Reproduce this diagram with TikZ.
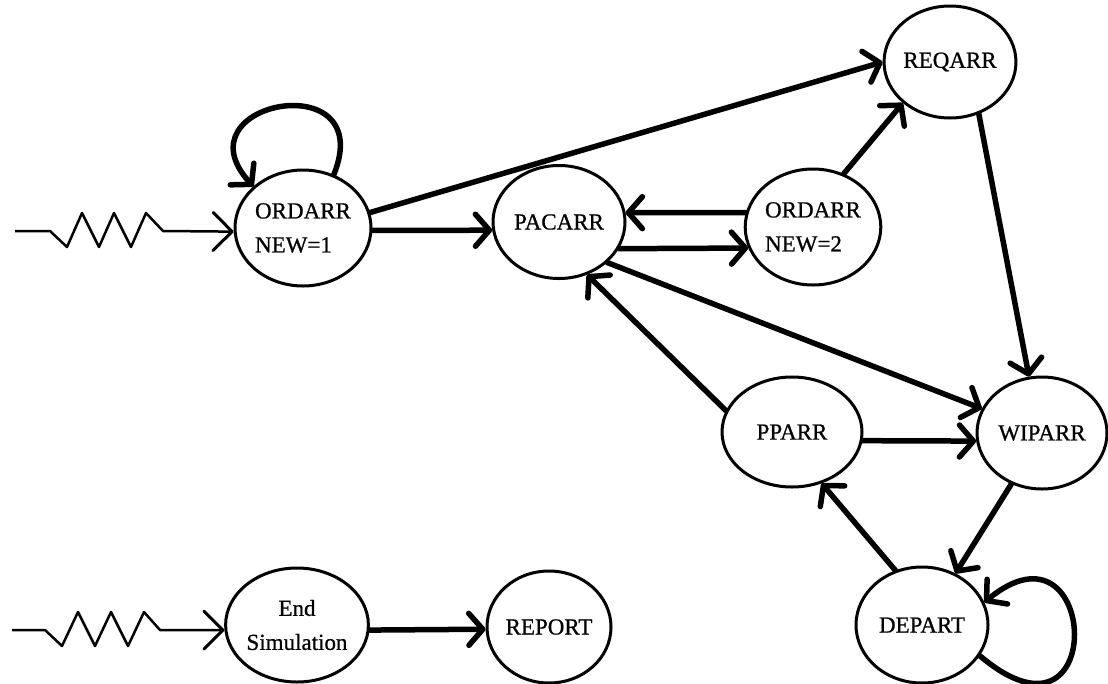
\documentclass[tikz,border=0pt]{standalone}
\usepackage{fontspec}
\setmainfont{Liberation Serif}
\newfontfamily\labelfont[FakeBold=0.8]{Liberation Serif}
\usetikzlibrary{shapes.geometric,arrows.meta}
\begin{document}
\begin{tikzpicture}[x=1pt,y=-1pt,
  state/.style={draw, ellipse, line width=3pt, inner sep=0pt,
    font=\labelfont\fontsize{23}{34}\selectfont, align=left},
  flow/.style={line width=5.5pt, line cap=round,
    -{Straight Barb[length=14pt,width=32pt,round]}},
  feed/.style={line width=2.5pt, line join=round,
    -{Straight Barb[length=19pt,width=38pt,line width=3pt,round]}}
]
\useasboundingbox (0,0) rectangle (1108,683);

% event nodes
\node[state, minimum width=136pt, minimum height=116pt] (O1)  at (303,228) {ORDARR\\NEW=1};
\node[state, minimum width=132pt, minimum height=113pt] (PAC) at (559,222) {PACARR};
\node[state, minimum width=133pt, minimum height=116pt] (O2)  at (813,227) {ORDARR\\NEW=2};
\node[state, minimum width=130pt, minimum height=112pt] (REQ) at (950,62)  {REQARR};
\node[state, minimum width=140pt, minimum height=110pt] (PP)  at (792,432) {PPARR};
\node[state, minimum width=130pt, minimum height=112pt] (WIP) at (1042,433) {WIPARR};
\node[state, minimum width=132pt, minimum height=116pt] (DEP) at (922,625) {DEPART};
\node[state, minimum width=140pt, minimum height=114pt, align=center] (END) at (297,625) {End\\Simulation};
\node[state, minimum width=124pt, minimum height=112pt] (REP) at (549,627) {REPORT};

% external arrivals
\coordinate (inA) at (15,231);
\draw[feed] (inA) -- ++(35,0) -- ++(17,16) -- ++(15,-34) -- ++(17,34) -- ++(15,-34)
  -- ++(17,34) -- ++(15,-34) -- ++(17,18) -- (O1.183);
\coordinate (inB) at (12,630);
\draw[feed] (inB) -- ++(33,0) -- ++(17,16) -- ++(16,-34) -- ++(17,34) -- ++(16,-34)
  -- ++(17,34) -- ++(16,-34) -- ++(16,18) -- (END.184);

% scheduling arcs
\draw[flow] (O1.13) -- (REQ.180);
\draw[flow] (O1.-2) -- (PAC.187);
\draw[flow] (O2.168) -- (PAC.8);
\draw[flow] (PAC.-24) -- (O2.198);
\draw[flow] (O2.60) -- (REQ.221);
\draw[flow] (REQ.299) -- (WIP.103);
\draw[flow] (PAC.320) -- (WIP.158);
\draw[flow] (PP.162) -- (PAC.298);
\draw[flow] (PP.353) -- (WIP.187);
\draw[flow] (WIP.239) -- (DEP.57);
\draw[flow] (DEP.116) -- (PP.300);
\draw[flow] (END.-4) -- (REP.182);

% self loops
\draw[flow] (O1.60) .. controls +(45,-111) and +(-78,-85) .. (O1.140);
\draw[flow] (DEP.332) .. controls +(130,110) and +(115,-95) .. (DEP.20);
\end{tikzpicture}
\end{document}
